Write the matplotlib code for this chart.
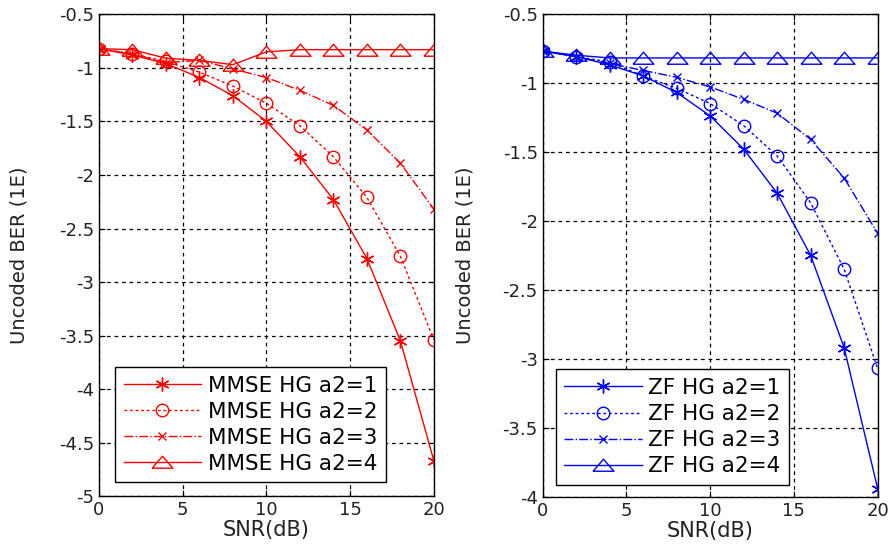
import numpy as np
import matplotlib.pyplot as plt

plt.rcParams['font.family'] = ['DejaVu Sans']

snr = [0, 2, 4, 6, 8, 10, 12, 14, 16, 18, 20]

# MMSE receiver, uncoded BER (log10)
mmse_a1 = [-0.82, -0.88, -0.96, -1.09, -1.26, -1.50, -1.83, -2.23, -2.78, -3.55, -4.67]
mmse_a2 = [-0.82, -0.87, -0.94, -1.04, -1.17, -1.33, -1.54, -1.83, -2.21, -2.76, -3.54]
mmse_a3 = [-0.82, -0.87, -0.95, -0.93, -1.01, -1.09, -1.21, -1.35, -1.58, -1.89, -2.32]
mmse_a4 = [-0.82, -0.83, -0.91, -0.93, -0.97, -0.85, -0.83, -0.83, -0.83, -0.83, -0.83]

# ZF receiver
zf_a1 = [-0.77, -0.81, -0.87, -0.95, -1.07, -1.24, -1.48, -1.80, -2.25, -2.92, -3.94]
zf_a2 = [-0.77, -0.81, -0.85, -0.95, -1.04, -1.15, -1.31, -1.53, -1.87, -2.35, -3.07]
zf_a3 = [-0.77, -0.81, -0.86, -0.91, -0.96, -1.03, -1.12, -1.22, -1.41, -1.69, -2.09]
zf_a4 = [-0.77, -0.80, -0.82, -0.82, -0.82, -0.82, -0.82, -0.82, -0.82, -0.82, -0.82]

mmse_labels = ['MMSE HG a2=1', 'MMSE HG a2=2', 'MMSE HG a2=3', 'MMSE HG a2=4']
zf_labels = ['ZF HG a2=1', 'ZF HG a2=2', 'ZF HG a2=3', 'ZF HG a2=4']

# flat, wide triangle like the matlab '^'
tri = [(-1.0, -0.55), (1.0, -0.55), (0.0, 0.6), (-1.0, -0.55)]

styles = [
    dict(ls='-', marker=(6, 2, 0), ms=10),
    dict(ls=(0, (2, 2)), marker='o', ms=9, mfc='none'),
    dict(ls='-.', marker='x', ms=6),
    dict(ls='-', marker=tri, ms=15, mfc='none'),
]


def draw(ax, series, labels, color, ylim, leg_box, ypad):
    for y, lab, st in zip(series, labels, styles):
        ax.plot(snr, y, color=color, lw=1.0, mew=1.0, label=lab, **st)
    ax.set_xlim(0, 20)
    ax.set_ylim(*ylim)
    ax.set_xticks([0, 5, 10, 15, 20])
    yt = np.arange(ylim[0], ylim[1] + 0.01, 0.5)
    ax.set_yticks(yt)
    ax.set_yticklabels(['%g' % v for v in yt])
    ax.grid(True, color='black', ls=(0, (3, 3)), lw=0.9)
    ax.tick_params(direction='in', top=True, right=True, labelsize=13, length=4,
                   labelcolor='#222222')
    for sp in ax.spines.values():
        sp.set_linewidth(1.0)
    ax.set_xlabel('SNR(dB)', fontsize=15, labelpad=1, color='#222222')
    ax.set_ylabel('Uncoded BER (1E)', fontsize=14, labelpad=ypad, color='#222222')
    leg = ax.legend(loc='lower left', bbox_to_anchor=leg_box, fontsize=15.5,
                    fancybox=False, framealpha=1, edgecolor='black',
                    handlelength=3.6, borderpad=0.4, labelspacing=0.28,
                    handletextpad=0.3, borderaxespad=0)
    leg.get_frame().set_linewidth(1.0)


fig = plt.figure(figsize=(8.91, 5.52), dpi=100)
ax1 = fig.add_axes([0.111, 0.101, 0.376, 0.873])
ax2 = fig.add_axes([0.609, 0.100, 0.376, 0.875])

draw(ax1, [mmse_a1, mmse_a2, mmse_a3, mmse_a4], mmse_labels, 'red', (-5, -0.5),
     (0.048, 0.029), 22)
draw(ax2, [zf_a1, zf_a2, zf_a3, zf_a4], zf_labels, 'blue', (-4, -0.5),
     (0.039, 0.025), 20)

fig.savefig('out.png', dpi=100)
